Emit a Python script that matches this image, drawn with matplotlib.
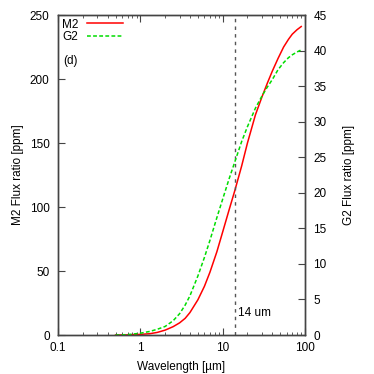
import matplotlib
matplotlib.use("Agg")
import matplotlib.pyplot as plt
from matplotlib.ticker import FixedLocator, LogLocator, NullFormatter

plt.rcParams["font.family"] = ["Liberation Sans", "DejaVu Sans"]
plt.rcParams["font.size"] = 8.5

# wavelength grid [um] and flux ratios
wavelength = [0.5, 0.7, 1.0, 1.3, 1.6, 2.0, 2.5, 3.0, 3.5, 4.0, 5.0, 6.0,
              7.0, 8.5, 10.0, 12.0, 14.0, 17.0, 20.0, 25.0, 30.0, 35.0,
              40.0, 47.0, 55.0, 63.0, 70.0, 80.0, 90.0]
m2_flux = [0.0, 0.1, 0.5, 1.0, 2.0, 3.8, 6.5, 9.5, 13.0, 17.5, 27.5, 38.0,
           49.0, 65.0, 80.5, 98.0, 112.5, 132.0, 150.0, 172.0, 186.0,
           197.0, 206.0, 216.0, 225.0, 231.0, 235.0, 238.5, 241.0]
g2_flux = [0.0, 0.05, 0.25, 0.5, 0.8, 1.2, 2.0, 3.0, 4.2, 5.5, 8.3, 10.9,
           13.3, 16.5, 19.1, 22.0, 24.3, 27.2, 29.3, 31.9, 33.6, 34.9,
           35.9, 37.3, 38.3, 39.0, 39.4, 39.8, 40.1]
marker_wl = 14.0

spine_col = "#444444"

fig = plt.figure(figsize=(3.74, 3.74), dpi=100)
ax = fig.add_axes([58 / 374, 39 / 374, 247 / 374, 320 / 374])
ax2 = ax.twinx()

l1, = ax.plot(wavelength, m2_flux, color="#ff0000", lw=1.1, label="M2")
l2, = ax2.plot(wavelength, g2_flux, color="#00dd00", lw=1.1,
               ls=(0, (2.5, 1.5)), label="G2")
ax.axvline(marker_wl, color="#555555", lw=1.0, ls=(0, (2.5, 3)))
ax.text(marker_wl * 1.09, 17, "14 um", ha="left", va="center")
ax.text(0.117, 214, "(d)", ha="left", va="center")

ax.set_xscale("log")
ax.set_xlim(0.1, 100)
ax.set_ylim(0, 250)
ax2.set_ylim(0, 45)
ax.xaxis.set_major_locator(FixedLocator([0.1, 1, 10, 100]))
ax.set_xticklabels(["0.1", "1", "10", "100"])
ax.xaxis.set_minor_locator(LogLocator(subs=range(2, 10)))
ax.xaxis.set_minor_formatter(NullFormatter())
ax.set_yticks(range(0, 251, 50))
ax2.set_yticks(range(0, 46, 5))

ax.set_xlabel("Wavelength [µm]", labelpad=5)
ax.set_ylabel("M2 Flux ratio [ppm]", labelpad=4)
ax2.set_ylabel("G2 Flux ratio [ppm]", labelpad=12)

for a in (ax, ax2):
    for s in a.spines.values():
        s.set_color(spine_col)
        s.set_linewidth(1.0)
ax.tick_params(axis="x", which="both", direction="in", top=True,
               color=spine_col, pad=5)
ax.tick_params(axis="x", which="major", length=5)
ax.tick_params(axis="x", which="minor", length=2.5)
ax.tick_params(axis="y", direction="in", length=5, color=spine_col, pad=6)
ax2.tick_params(axis="y", direction="in", length=5, color=spine_col, pad=6)

ax2.legend([l1, l2], ["M2", "G2"], loc="upper left", frameon=False,
           markerfirst=False, handlelength=3.0, handletextpad=0.8,
           labelspacing=0.05, borderaxespad=0.1, borderpad=0.2)

fig.savefig("out.png", dpi=100)
